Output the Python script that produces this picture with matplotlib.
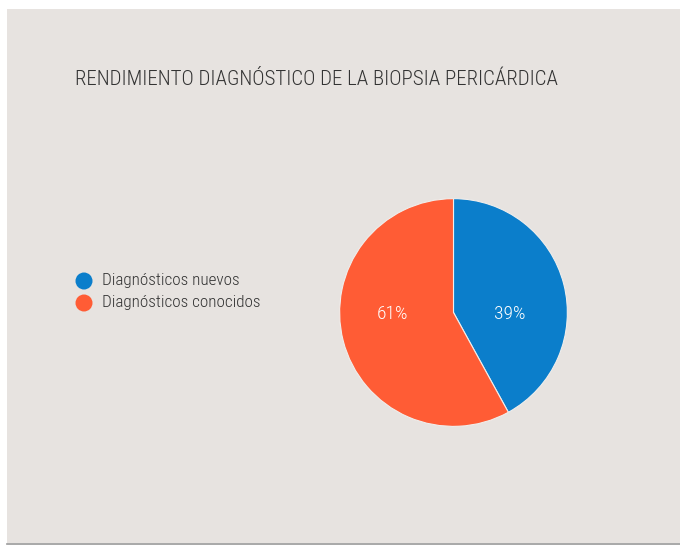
import matplotlib.pyplot as plt
from matplotlib.patches import Rectangle, Ellipse
from matplotlib.lines import Line2D
from matplotlib import font_manager

# data
labels = ["Diagnósticos nuevos", "Diagnósticos conocidos"]
shares = [42, 58]            # wedge sizes as drawn in the picture
pct_labels = ["39%", "61%"]  # percentages as printed on the wedges
colors = ["#0B7ECB", "#FF5C35"]
title = "RENDIMIENTO DIAGNÓSTICO DE LA BIOPSIA PERICÁRDICA"

# condensed font, first one that is installed
names = {f.name for f in font_manager.fontManager.ttflist}
font = "DejaVu Sans"
for cand in ["Roboto Condensed", "Archivo Narrow", "Fira Sans Condensed",
             "Barlow Semi Condensed", "Encode Sans Condensed"]:
    if cand in names:
        font = cand
        break
plt.rcParams['font.family'] = [font, 'DejaVu Sans']

W, H = 680, 545
fig = plt.figure(figsize=(W / 100, H / 100), dpi=100)
fig.patch.set_facecolor("white")

# background panel
fig.patches.append(Rectangle((7 / W, 1 - 543 / H), 1 - 7 / W, (543 - 9) / H,
                             transform=fig.transFigure, facecolor="#E7E3E0",
                             edgecolor="none", zorder=-10))
fig.lines.append(Line2D([7 / W, 1], [1 - 543.5 / H, 1 - 543.5 / H],
                        transform=fig.transFigure, color="#9A9A9A", lw=1.2))

fig.text(75 / W, 1 - 79 / H, title, fontsize=15, color="#333333",
         fontweight="light", va="center", ha="left")

# pie axes: center (453.5, 312.5), radius ~115
r = 115
ax = fig.add_axes([(453.5 - r) / W, 1 - (312.5 + r) / H, 2 * r / W, 2 * r / H])
ax.set_facecolor("none")
wedges, texts = ax.pie(shares, colors=colors, startangle=90,
                       counterclock=False, radius=1,
                       wedgeprops=dict(edgecolor="#F0EEEC", linewidth=0.8))
# percentage labels sit on the horizontal through the centre
for lab, xoff in zip(pct_labels, [0.49, -0.54]):
    ax.text(xoff, -0.01, lab, color="white", fontsize=14, fontweight="light",
            ha="center", va="center")
ax.set_xlim(-1.01, 1.01)
ax.set_ylim(-1.01, 1.01)
ax.set_aspect("equal")

# legend
for i, (lab, c) in enumerate(zip(labels, colors)):
    y = 1 - (281 + i * 22) / H
    fig.patches.append(Ellipse((84 / W, y), 17 / W, 17 / H, transform=fig.transFigure,
                               facecolor=c, edgecolor="none"))
    fig.text(102 / W, y, lab, fontsize=12.3, color="#333333", fontweight="light",
             va="center", ha="left")

fig.savefig("out.png", dpi=100, facecolor=fig.get_facecolor())
